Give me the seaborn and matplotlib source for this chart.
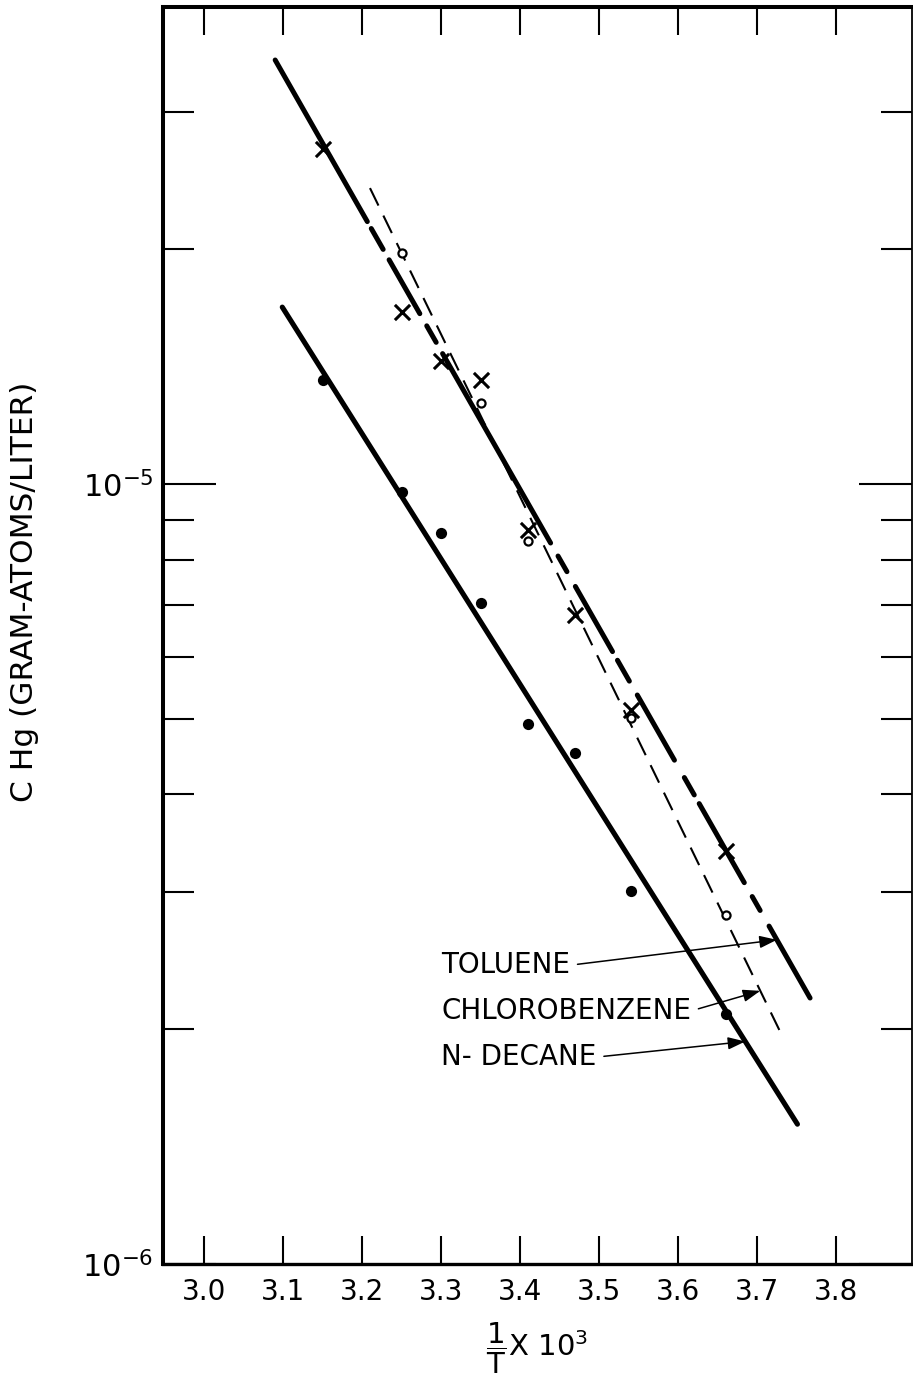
import numpy as np
import matplotlib
matplotlib.use("Agg")
import matplotlib.pyplot as plt
import seaborn as sns
from matplotlib.ticker import FixedLocator, NullFormatter, LogFormatterSciNotation

# ---- measured mercury solubility vs reciprocal temperature ----
decane_x = [3.15, 3.25, 3.30, 3.35, 3.41, 3.47, 3.54, 3.66]
decane_y = [1.36e-5, 9.77e-6, 8.65e-6, 7.04e-6, 4.92e-6, 4.52e-6, 3.01e-6, 2.09e-6]

toluene_x = [3.15, 3.25, 3.30, 3.35, 3.41, 3.47, 3.54, 3.66]
toluene_y = [2.69e-5, 1.66e-5, 1.44e-5, 1.36e-5, 8.73e-6, 6.79e-6, 5.13e-6, 3.38e-6]

chloro_x = [3.25, 3.35, 3.41, 3.54, 3.66]
chloro_y = [1.98e-5, 1.27e-5, 8.45e-6, 5.01e-6, 2.80e-6]

# ---- fitted straight lines (end points) ----
decane_fit_x = [3.099, 3.751]
decane_fit_y = [1.686e-5, 1.511e-6]
toluene_fit_x = [3.090, 3.767]
toluene_fit_y = [3.497e-5, 2.193e-6]
chloro_fit_x = [3.210, 3.733]
chloro_fit_y = [2.396e-5, 1.949e-6]

# ---- axis ticks ----
x_ticks = [3.0, 3.1, 3.2, 3.3, 3.4, 3.5, 3.6, 3.7, 3.8]
x_tick_labels = ["3.0", "3.1", "3.2", "3.3", "3.4", "3.5", "3.6", "3.7", "3.8"]
y_major = [1e-6, 1e-5]
y_minor = [2e-6, 3e-6, 4e-6, 5e-6, 6e-6, 7e-6, 8e-6, 9e-6, 2e-5, 3e-5]

# ---- curve labels ----
labels = ["TOLUENE", "CHLOROBENZENE", "N- DECANE"]
label_x = [3.300, 3.300, 3.300]
label_y = [2.416e-6, 2.111e-6, 1.842e-6]
arrow_tip_x = [3.725, 3.704, 3.685]

sns.set_theme(style="white")
plt.rcParams["font.family"] = ["DejaVu Sans"]
plt.rcParams["mathtext.fontset"] = "dejavusans"
plt.rcParams["lines.scale_dashes"] = False

fig = plt.figure(figsize=(9.13, 13.91), dpi=100)
ax = fig.add_axes([0.1785, 0.0913, 0.8204, 0.9037])
ax.set_yscale("log")

# hand-inked long/short dash pattern of the toluene line (points)
toluene_dash = tuple(v * 0.72 for v in
                     [186, 8, 24, 12, 62, 14, 19, 13, 218, 15, 18, 17, 75, 10,
                      24, 16, 75, 20, 20, 10, 91, 16, 16, 18, 87, 40])

sns.lineplot(x=decane_fit_x, y=decane_fit_y, ax=ax, color="black", lw=3.7,
             estimator=None, sort=False, solid_capstyle="round")
sns.lineplot(x=toluene_fit_x, y=toluene_fit_y, ax=ax, color="black", lw=3.6,
             estimator=None, sort=False, linestyle=(0, toluene_dash),
             dash_capstyle="round")
sns.lineplot(x=chloro_fit_x, y=chloro_fit_y, ax=ax, color="black", lw=1.5,
             estimator=None, sort=False, linestyle=(0, (14, 8)))

sns.scatterplot(x=decane_x, y=decane_y, ax=ax, color="black", s=65,
                marker="o", linewidth=0, zorder=5)
sns.scatterplot(x=toluene_x, y=toluene_y, ax=ax, color="black", s=120,
                marker="x", linewidth=2.2, zorder=5)
sns.scatterplot(x=chloro_x, y=chloro_y, ax=ax, color="white", s=34,
                marker="o", edgecolor="black", linewidth=1.6, zorder=6)

ax.set_xlim(2.948, 3.896)
ax.set_ylim(1e-6, 4.09e-5)

ax.set_xticks(x_ticks, labels=x_tick_labels)
ax.yaxis.set_major_locator(FixedLocator(y_major))
ax.yaxis.set_major_formatter(LogFormatterSciNotation())
ax.yaxis.set_minor_locator(FixedLocator(y_minor))
ax.yaxis.set_minor_formatter(NullFormatter())

ax.tick_params(axis="x", which="major", direction="in", length=20, width=1.5,
               top=True, bottom=True, labelsize=20, pad=10, color="black",
               labelcolor="black")
ax.tick_params(axis="y", which="major", direction="in", length=38, width=1.5,
               left=True, right=True, labelsize=22, pad=7, color="black",
               labelcolor="black")
ax.tick_params(axis="y", which="minor", direction="in", length=22, width=1.5,
               left=True, right=True, color="black")
ax.tick_params(axis="x", which="minor", bottom=False, top=False)

for side, lw in {"left": 2.9, "bottom": 2.4, "top": 2.9, "right": 1.3}.items():
    ax.spines[side].set_color("black")
    ax.spines[side].set_linewidth(lw)

ax.set_ylabel("C Hg (GRAM-ATOMS/LITER)", fontsize=22.5, color="black")
ax.yaxis.set_label_coords(-0.165, 0.535)
ax.set_xlabel(r"$\dfrac{1}{\mathrm{T}}$X 10$^{3}$", fontsize=21, color="black",
              va="top")
ax.xaxis.set_label_coords(0.5, -0.045)

# labels with arrows pointing at their curves
fit_lines = [(toluene_fit_x, toluene_fit_y), (chloro_fit_x, chloro_fit_y),
             (decane_fit_x, decane_fit_y)]
for text, tx, ty, ax_tip, (fx, fy) in zip(labels, label_x, label_y,
                                          arrow_tip_x, fit_lines):
    tip_y = 10 ** np.interp(ax_tip, fx, np.log10(fy))
    ax.annotate(text, xy=(ax_tip, tip_y), xytext=(tx, ty),
                ha="left", va="center", fontsize=20, color="black",
                arrowprops=dict(arrowstyle="-|>,head_length=0.7,head_width=0.25",
                                color="black", lw=1.1, mutation_scale=15,
                                shrinkA=3, shrinkB=0, relpos=(1, 0.5)))

fig.savefig("out.png", dpi=100, facecolor="white")
